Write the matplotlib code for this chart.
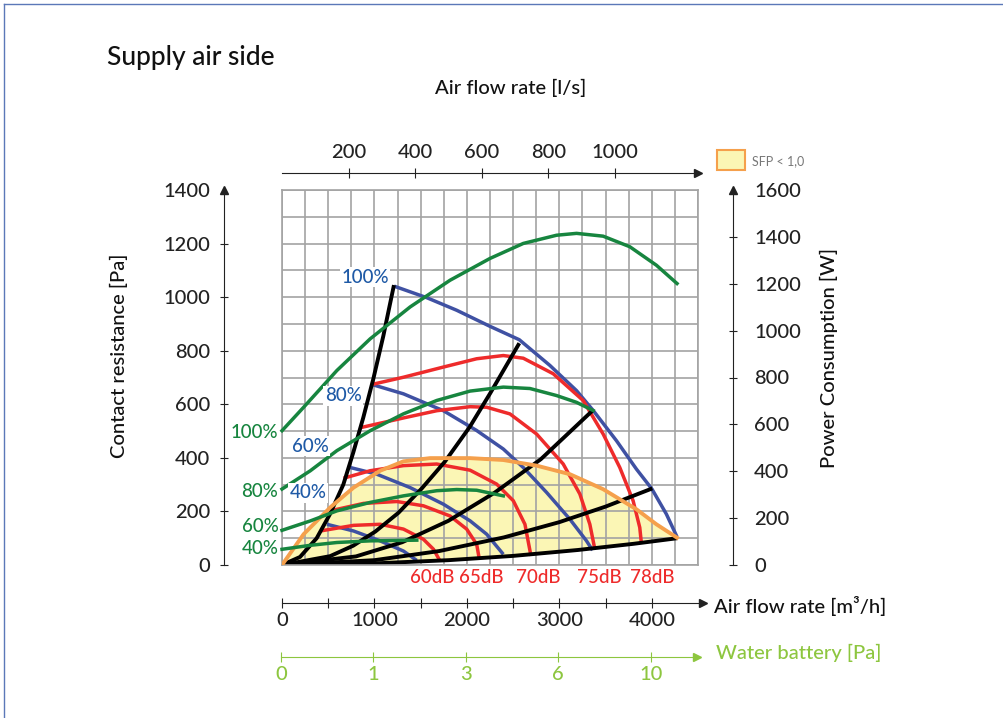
import numpy as np
import matplotlib
matplotlib.use("Agg")
import matplotlib.pyplot as plt
from matplotlib.patches import Rectangle
from matplotlib.lines import Line2D

plt.rcParams['font.family'] = ['Lato', 'DejaVu Sans']
plt.rcParams['font.weight'] = 500

# ---- data (x in m3/h, pressure in Pa, power in W) ----
# system curves (black)
sys1_x = [0, 195, 375, 519, 663, 771, 879, 988, 1096, 1211]
sys1_y = [0, 30, 100, 190, 300, 420, 550, 695, 855, 1045]
sys2_x = [0, 520, 770, 1010, 1260, 1510, 1760, 2030, 2250, 2567]
sys2_y = [0, 33, 72, 125, 195, 285, 385, 515, 640, 828]
sys3_x = [0, 800, 1300, 1800, 2300, 2800, 3367]
sys3_y = [0, 32, 85, 165, 270, 395, 579]
sys4_x = [0, 1000, 1700, 2400, 3000, 3500, 4006]
sys4_y = [0, 18, 52, 103, 160, 218, 286]
sys5_x = [0, 1000, 1800, 2500, 3200, 3800, 4276]
sys5_y = [0, 6, 18, 34, 56, 79, 100]

# fan curves (blue), 100/80/60/40 %
fan100_x = [1213, 1566, 1890, 2250, 2567, 2898, 3186, 3366, 3618, 3834, 4003, 4158, 4273]
fan100_y = [1041, 998, 951, 891, 841, 745, 651, 577, 464, 358, 283, 190, 105]
fan80_x = [972, 1314, 1746, 2106, 2394, 2610, 2862, 3114, 3294, 3359]
fan80_y = [674, 639, 576, 502, 433, 364, 271, 171, 90, 55]
fan60_x = [738, 1026, 1386, 1746, 2034, 2214, 2394]
fan60_y = [364, 339, 289, 227, 165, 115, 40]
fan40_x = [486, 774, 1062, 1314, 1458]
fan40_y = [152, 127, 90, 52, 17]

# sound level curves (red)
db78_x = [972, 1314, 1746, 2106, 2394, 2610, 2934, 3258, 3474, 3654, 3798, 3870, 3888]
db78_y = [674, 701, 739, 770, 782, 772, 714, 614, 489, 364, 240, 140, 80]
db75_x = [839, 1314, 1674, 2034, 2214, 2466, 2754, 3042, 3222, 3330, 3384]
db75_y = [512, 549, 576, 591, 589, 564, 489, 377, 265, 152, 59]
db70_x = [666, 954, 1314, 1674, 2034, 2322, 2502, 2628, 2693]
db70_y = [324, 352, 371, 377, 354, 302, 240, 152, 34]
db65_x = [558, 882, 1242, 1530, 1818, 1998, 2106, 2135]
db65_y = [205, 230, 237, 221, 183, 134, 77, 21]
db60_x = [414, 774, 1062, 1314, 1530, 1638, 1710]
db60_y = [127, 148, 152, 134, 96, 59, 15]

# power consumption (green, W)
pw100_x = [0, 234, 594, 954, 1386, 1818, 2250, 2610, 2970, 3186, 3474, 3762, 4050, 4273]
pw100_y = [573, 673, 830, 965, 1101, 1215, 1308, 1372, 1407, 1415, 1403, 1358, 1279, 1201]
pw80_x = [0, 306, 594, 954, 1314, 1674, 2034, 2394, 2682, 2970, 3186, 3366]
pw80_y = [324, 402, 488, 573, 645, 702, 742, 759, 753, 723, 694, 659]
pw60_x = [0, 306, 594, 954, 1314, 1674, 1890, 2106, 2394]
pw60_y = [148, 188, 231, 267, 295, 317, 322, 319, 295]
pw40_x = [0, 306, 594, 954, 1458]
pw40_y = [67, 84, 96, 103, 106]

# SFP < 1.0 boundary (orange)
sfp_x = [0, 234, 522, 774, 1062, 1314, 1602, 2034, 2394, 2754, 3114, 3474, 3834, 4050, 4273]
sfp_y = [0, 115, 215, 289, 352, 387, 399, 399, 392, 371, 339, 283, 208, 152, 102]

pa_ticks = [0, 200, 400, 600, 800, 1000, 1200, 1400]
w_ticks = [0, 200, 400, 600, 800, 1000, 1200, 1400, 1600]
ls_ticks = [200, 400, 600, 800, 1000]
m3h_ticks = [0, 500, 1000, 1500, 2000, 2500, 3000, 3500, 4000]
water_pos = [0, 1000, 2000, 3000, 4000]
water_labels = ['0', '1', '3', '6', '10']
db_labels = ['60dB', '65dB', '70dB', '75dB', '78dB']

BLUE = '#3f51a3'
RED = '#ee2b2b'
GREEN = '#17853f'
ORANGE = '#f5a04c'
FILL = '#fbf6b5'
LIME = '#8dc63f'
FS = 14.5

W, H = 1004, 718
fig = plt.figure(figsize=(W / 100, H / 100), dpi=100)


def fr(px, py):
    return px / W, 1 - py / H


# ---- main grid ----
ax = fig.add_axes([282 / W, 1 - 565 / H, 416 / W, 375 / H])
ax.set_xlim(0, 4500)
ax.set_ylim(0, 1400)
ax.set_xticks(np.arange(0, 4501, 250))
ax.set_yticks(np.arange(0, 1401, 100))
ax.tick_params(length=0, labelbottom=False, labelleft=False)
ax.set_axisbelow(True)
ax.grid(True, color='#a3a3a3', lw=1.2)
for s in ax.spines.values():
    s.set_color('#a3a3a3')
    s.set_linewidth(1.2)

LW = 2.5
ax.fill(sfp_x + sys5_x[::-1], sfp_y + sys5_y[::-1], color=FILL, zorder=0.3, lw=0)

for xs, ys in [(fan100_x, fan100_y), (fan80_x, fan80_y), (fan60_x, fan60_y), (fan40_x, fan40_y)]:
    ax.plot(xs, ys, color=BLUE, lw=LW, solid_capstyle='butt', zorder=2)
for xs, ys in [(db78_x, db78_y), (db75_x, db75_y), (db70_x, db70_y), (db65_x, db65_y), (db60_x, db60_y)]:
    ax.plot(xs, ys, color=RED, lw=LW, solid_capstyle='butt', zorder=2.2)
for xs, ys in [(sys1_x, sys1_y), (sys2_x, sys2_y), (sys3_x, sys3_y), (sys4_x, sys4_y), (sys5_x, sys5_y)]:
    ax.plot(xs, ys, color='black', lw=LW + 0.3, solid_capstyle='butt', zorder=2.4)
ax.plot(sfp_x, sfp_y, color=ORANGE, lw=LW + 0.3, zorder=2.6)

ax2 = ax.twinx()
ax2.set_ylim(0, 1600)
ax2.axis('off')
for xs, ys in [(pw100_x, pw100_y), (pw80_x, pw80_y), (pw60_x, pw60_y), (pw40_x, pw40_y)]:
    ax2.plot(xs, ys, color=GREEN, lw=LW, clip_on=False, zorder=2)

# curve labels (positions in m3/h, Pa)
box = dict(facecolor='white', edgecolor='none', pad=1)
for t, x, y in [('100%', 898, 1075), ('80%', 660, 631), ('60%', 303, 444), ('40%', 281, 269)]:
    ax2.text(x, y, t, transform=ax.transData, color='#1f5aa6', fontsize=13.5,
             ha='center', va='center', bbox=box, zorder=5)
for t, y in [('100%', 493), ('80%', 276), ('60%', 142), ('40%', 60)]:
    ax2.text(-40, y, t, transform=ax.transData, color=GREEN, fontsize=13.5,
             ha='right', va='center', zorder=5)
for t, x in zip(db_labels, [1623, 2153, 2769, 3429, 4002]):
    ax2.text(x, -45, t, transform=ax.transData, color=RED, fontsize=13.5,
             ha='center', va='center', zorder=5)

AXC = '#222222'

# ---- left axis (Pa) ----
axl = fig.add_axes([224 / W, 1 - 565 / H, 1e-4, 375 / H])
axl.set_ylim(0, 1400)
axl.set_xlim(0, 1)
axl.patch.set_visible(False)
for s in ['top', 'right', 'bottom']:
    axl.spines[s].set_visible(False)
axl.spines['left'].set_color(AXC)
axl.set_xticks([])
axl.set_yticks(pa_ticks)
axl.tick_params(axis='y', direction='inout', length=6, colors=AXC, labelsize=FS, pad=7)
axl.yaxis.get_major_ticks()[-1].tick1line.set_visible(False)
axl.plot([0], [1400], marker='^', ms=6, color=AXC, clip_on=False)

# ---- right axis (W) ----
axr = fig.add_axes([733 / W, 1 - 565 / H, 1e-4, 375 / H])
axr.set_ylim(0, 1600)
axr.set_xlim(0, 1)
axr.patch.set_visible(False)
for s in ['top', 'left', 'bottom']:
    axr.spines[s].set_visible(False)
axr.spines['right'].set_color(AXC)
axr.set_xticks([])
axr.yaxis.tick_right()
axr.set_yticks(w_ticks)
axr.tick_params(axis='y', direction='inout', length=6, colors=AXC, labelsize=FS, pad=12)
axr.yaxis.get_major_ticks()[-1].tick2line.set_visible(False)
axr.plot([1], [1600], marker='^', ms=6, color=AXC, clip_on=False)

# ---- top axis (l/s) ----
axt = fig.add_axes([282 / W, 1 - 173 / H, 416 / W, 1e-4])
axt.set_xlim(0, 4500 / 3.6)
axt.set_ylim(0, 1)
axt.patch.set_visible(False)
for s in ['left', 'right', 'bottom']:
    axt.spines[s].set_visible(False)
axt.spines['top'].set_color(AXC)
axt.set_yticks([])
axt.xaxis.tick_top()
axt.set_xticks(ls_ticks)
axt.tick_params(axis='x', direction='inout', length=7, colors=AXC, labelsize=FS, pad=5)
axt.plot([4500 / 3.6], [1], marker='>', ms=6, color=AXC, clip_on=False)

# ---- bottom axis (m3/h) ----
xend = (703 - 282) / 416 * 4500
axb = fig.add_axes([282 / W, 1 - 603 / H, 421 / W, 1e-4])
axb.set_xlim(0, xend)
axb.set_ylim(0, 1)
axb.patch.set_visible(False)
for s in ['left', 'right', 'top']:
    axb.spines[s].set_visible(False)
axb.spines['bottom'].set_color(AXC)
axb.set_yticks([])
axb.set_xticks(m3h_ticks)
axb.set_xticklabels([str(v) if v % 1000 == 0 else '' for v in m3h_ticks])
axb.tick_params(axis='x', direction='inout', length=7, colors=AXC, labelsize=FS, pad=3)
axb.plot([xend], [0], marker='>', ms=6, color=AXC, clip_on=False)

# ---- water battery axis ----
axw = fig.add_axes([281 / W, 1 - 657 / H, 416 / W, 1e-4])
axw.set_xlim(0, 4500)
axw.set_ylim(0, 1)
axw.patch.set_visible(False)
for s in ['left', 'right', 'top']:
    axw.spines[s].set_visible(False)
axw.spines['bottom'].set_color(LIME)
axw.set_yticks([])
axw.set_xticks(water_pos)
axw.set_xticklabels(water_labels)
axw.tick_params(axis='x', direction='inout', length=7, colors=LIME, labelsize=FS, pad=3)
axw.plot([4500], [0], marker='>', ms=6, color=LIME, clip_on=False)

# ---- texts ----
fig.text(*fr(107, 58), 'Supply air side', fontsize=19, ha='left', va='center', color='#111')
fig.text(*fr(511, 88), 'Air flow rate [l/s]', fontsize=FS, ha='center', va='center', color='#111')
fig.text(*fr(119, 356), 'Contact resistance [Pa]', fontsize=FS, rotation=90,
         ha='center', va='center', color='#111')
fig.text(*fr(829, 358), 'Power Consumption [W]', fontsize=FS, rotation=90,
         ha='center', va='center', color='#111')
fig.text(*fr(714, 606), 'Air flow rate [m³/h]', fontsize=FS, ha='left', va='center', color='#111')
fig.text(*fr(716, 653), 'Water battery [Pa]', fontsize=FS, ha='left', va='center', color=LIME)

# legend
fig.patches.append(Rectangle(fr(717, 170), 28 / W, 20 / H, transform=fig.transFigure,
                             facecolor=FILL, edgecolor=ORANGE, lw=1.5))
fig.text(*fr(752, 161), 'SFP < 1,0', fontsize=9, ha='left', va='center', color='#777777',
         fontweight='normal')

# frame lines at top and left edge
fig.add_artist(Line2D([4 / W, 1], [1 - 4 / H, 1 - 4 / H], transform=fig.transFigure,
                      color='#5b78b8', lw=1))
fig.add_artist(Line2D([4 / W, 4 / W], [0, 1 - 4 / H], transform=fig.transFigure,
                      color='#5b78b8', lw=1))

fig.savefig('out.png', dpi=100)
